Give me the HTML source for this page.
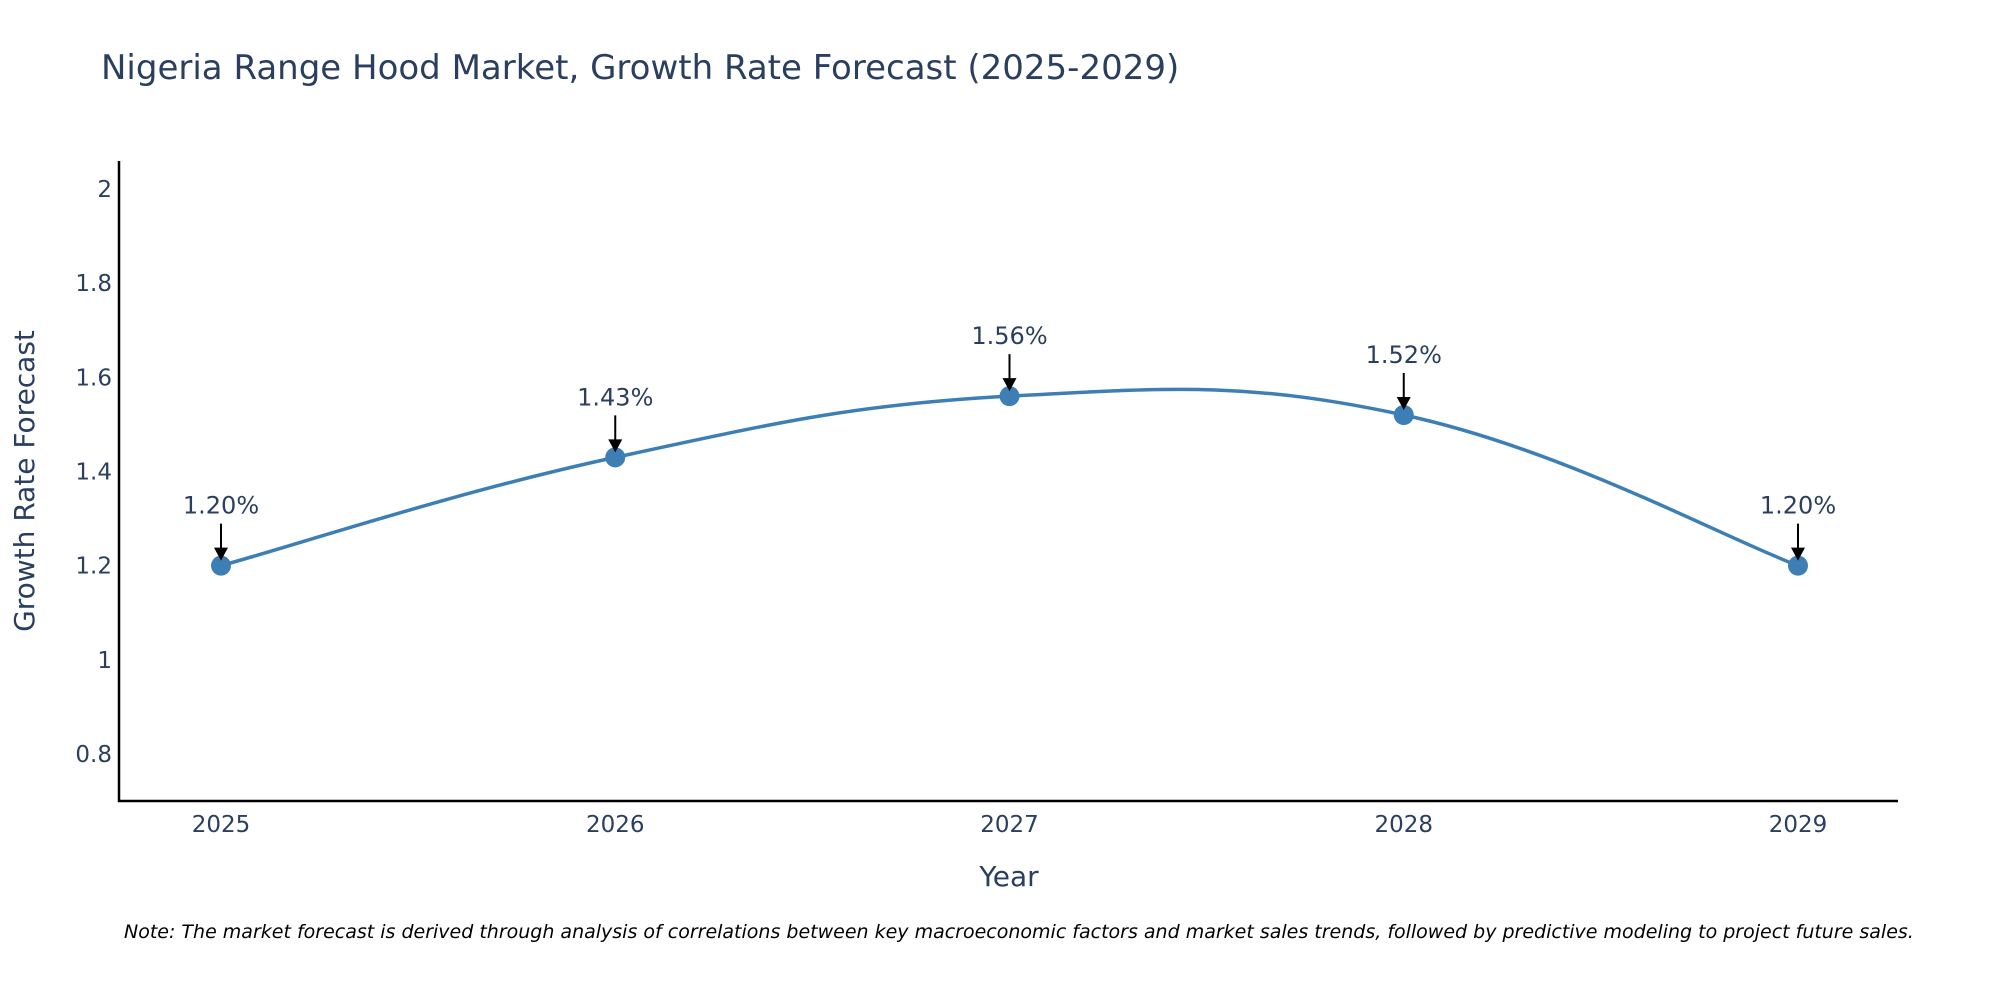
<!DOCTYPE html>
<html><head><meta charset="utf-8"><style>
body{margin:0;background:#fff;font-family:"DejaVu Sans",sans-serif}
svg text{font-family:"DejaVu Sans",sans-serif}
</style></head><body>
<svg id="chart" width="2000" height="1000" viewBox="0 0 2000 1000">
<text x="101" y="79" font-size="34" fill="#2a3f5f">Nigeria Range Hood Market, Growth Rate Forecast (2025-2029)</text>
<g id="yticks"></g>
<g id="xticks"></g>
<line x1="119" y1="161" x2="119" y2="802" stroke="#000" stroke-width="2.5"/>
<line x1="118" y1="801" x2="1898" y2="801" stroke="#000" stroke-width="2.5"/>
<text transform="translate(34,481) rotate(-90)" text-anchor="middle" font-size="28" fill="#2a3f5f">Growth Rate Forecast</text>
<text x="1009" y="886" text-anchor="middle" font-size="28" fill="#2a3f5f">Year</text>
<path id="line" fill="none" stroke="#3d7fb4" stroke-width="3.5"/>
<g id="points"></g>
<text x="124" y="938" font-size="19" font-style="italic" fill="#000">Note: The market forecast is derived through analysis of correlations between key macroeconomic factors and market sales trends, followed by predictive modeling to project future sales.</text>
</svg>
<script>
const years = [2025, 2026, 2027, 2028, 2029];
const growthValues = [1.20, 1.43, 1.56, 1.52, 1.20];
const yTickValues = [0.8, 1, 1.2, 1.4, 1.6, 1.8, 2];
const yTickLabels = ["0.8", "1", "1.2", "1.4", "1.6", "1.8", "2"];
const NS = "http://www.w3.org/2000/svg";
function xScale(yr){return 221 + (yr-2025)*(1798-221)/4;}
function yScale(v){return 754 - (v-0.8)*(754-189)/1.2;}
function mk(tag, attrs, parent){const e=document.createElementNS(NS,tag);for(const k in attrs)e.setAttribute(k,attrs[k]);parent.appendChild(e);return e;}
const yt=document.getElementById('yticks');
yTickValues.forEach((v,i)=>{
  const t=mk('text',{x:112,y:yScale(v)+8,'text-anchor':'end','font-size':'23',fill:'#2a3f5f'},yt);
  
  
  t.textContent=yTickLabels[i];
});
const xt=document.getElementById('xticks');
years.forEach(yr=>{
  const t=mk('text',{x:xScale(yr),y:832,'text-anchor':'middle','font-size':'23',fill:'#2a3f5f'},xt);
  
  
  t.textContent=String(yr);
});
const pts=years.map((yr,i)=>[xScale(yr),yScale(growthValues[i])]);
let d='M'+pts[0][0]+','+pts[0][1];
const s=0.2;
for(let i=0;i<pts.length-1;i++){
  const p0=pts[Math.max(0,i-1)],p1=pts[i],p2=pts[i+1],p3=pts[Math.min(pts.length-1,i+2)];
  const c1=[p1[0]+(p2[0]-p0[0])*s,p1[1]+(p2[1]-p0[1])*s];
  const c2=[p2[0]-(p3[0]-p1[0])*s,p2[1]-(p3[1]-p1[1])*s];
  d+=' C'+c1+' '+c2+' '+p2;
}
document.getElementById('line').setAttribute('d',d);
const pg=document.getElementById('points');
pts.forEach((p,i)=>{
  const c=mk('circle',{cx:p[0],cy:p[1],r:10,fill:'#3d7fb4'},pg);
  
  
  const a=mk('line',{x1:p[0],y1:p[1]-42,x2:p[0],y2:p[1]-14,stroke:'#000','stroke-width':'2'},pg);
  
  
  const h=mk('polygon',{points:`${p[0]-7},${p[1]-18} ${p[0]+7},${p[1]-18} ${p[0]},${p[1]-5}`,fill:'#000'},pg);
  
  
  const t=mk('text',{x:p[0],y:p[1]-52,'text-anchor':'middle','font-size':'24',fill:'#2a3f5f'},pg);
  
  
  t.textContent=growthValues[i].toFixed(2)+'%';
});
</script>
</body></html>
